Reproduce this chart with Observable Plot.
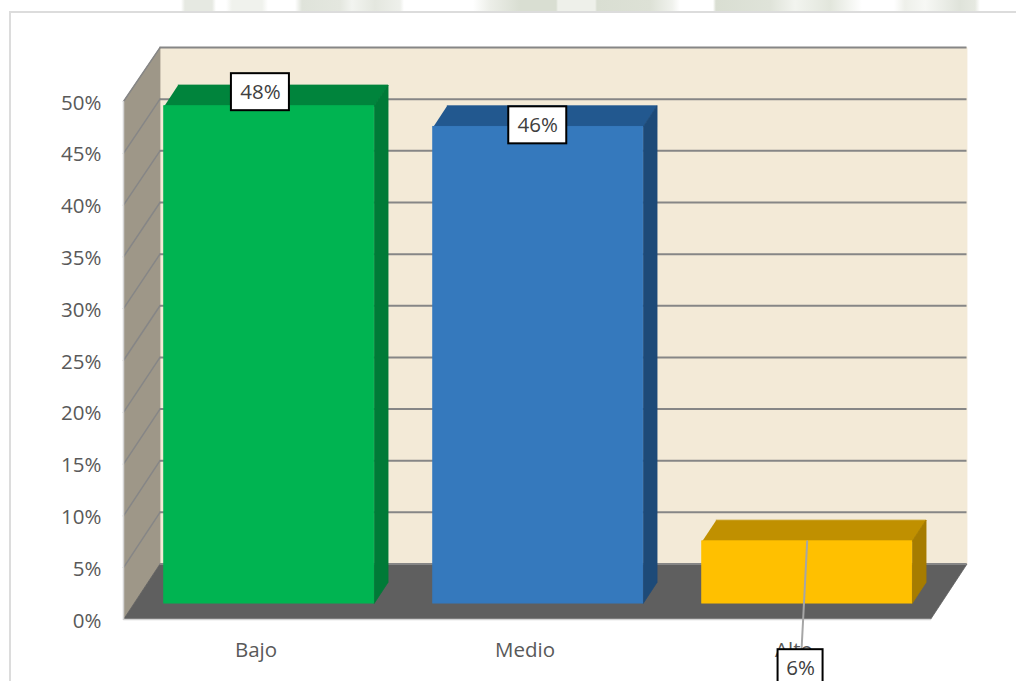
<!DOCTYPE html>
<html><head><meta charset="utf-8">
<script src="https://cdn.jsdelivr.net/npm/d3@7"></script>
<script src="https://cdn.jsdelivr.net/npm/@observablehq/plot@0.6"></script>
<style>
html,body{margin:0;padding:0;background:#fff;width:1016px;height:681px;overflow:hidden}
#frame{position:absolute;left:9px;top:11px;width:1007px;height:670px;border-left:2px solid #dcdcdc;border-top:2px solid #dcdcdc;box-sizing:border-box}
#mark{position:absolute;left:0;top:0;width:1016px;height:11px;background:linear-gradient(90deg,
  #fff 181px,#e6e9e2 185px,#e6e9e2 212px,#fff 216px,#fff 226px,#f0f2ed 232px,#f0f2ed 262px,#fff 268px,#fff 295px,
  #dfe3da 302px,#e4e7df 340px,#f2f4f0 352px,#e4e7df 375px,#eef0eb 400px,#fff 404px,#fff 473px,#eceee8 490px,#d9ded2 520px,#d9ded2 556px,
  #eef0ea 558px,#eef0ea 595px,#d9ded2 597px,#dde1d6 650px,#f0f2ed 672px,#fff 680px,#fff 713px,#d9ded2 716px,#dfe3d9 770px,#f2f4ef 795px,#e2e6dc 830px,#fff 862px,#fff 894px,
  #eef0ea 905px,#f7f8f5 925px,#dfe3da 960px,#e6e9e1 975px,#fff 980px)}
svg{position:absolute;left:0;top:0;display:block}
</style></head><body>
<div id="mark"></div>
<div id="frame"></div>
<script>
const categories = ["Bajo", "Medio", "Alto"];
const values = [48, 46, 6];
const labels = ["48%", "46%", "6%"];
const frontColors = ["#00b451", "#3579bd", "#ffc000"];
const topColors = ["#00843c", "#22588f", "#c09000"];
const sideColors = ["#007a37", "#1d4a78", "#a67c00"];
const yTicks = [0,5,10,15,20,25,30,35,40,45,50];
const labelY = [50.9, 47.7, -4.7];
const labelX = [0.509, 1.54, 2.517];

const W = 1016, H = 681;
const left = 123, right = 930, top_ = 101, bottom = 619;
const px = 3 / (right - left), py = 50 / (bottom - top_);
const depthX = 36.5 * px, depthY = 55.5 * py, backScale = 0.997;
const barNear = 0.288, barFar = 0.67, barStart = 0.1125, barWidth = 0.78;
const P = (u, v, d = 0) => ({x: u + d * depthX, y: v + d * depthY});
const B = (u, v) => ({x: u + depthX, y: v * backScale + depthY});
const poly = (pts, fill, extra = {}) => Plot.line(pts, {x: "x", y: "y", fill, stroke: fill, strokeWidth: 0.8, ...extra});
const bars = categories.map((c, i) => ({c, i, v: values[i], l: labels[i],
  x0: i + barStart, x1: i + barStart + barWidth}));

const marks = [
  // back wall, left wall, floor
  poly([B(0,0),B(3,0),B(3,50),B(0,50)], "#f3ead7"),
  poly([P(0,0,0),B(0,0),B(0,50),P(0,50,0)], "#9e9788"),
  poly([P(0,0,0),B(0,0),B(3,0),P(3,0,0)], "#5f5f5f"),
  // grid
  Plot.ruleY(yTicks, {x1: B(0,0).x, x2: B(3,0).x, y: d => B(0,d).y, stroke: "#868686", strokeWidth: 2}),
  ...yTicks.filter(t => t > 0).map(t => Plot.line([P(0,t,0),B(0,t)], {x: "x", y: "y", stroke: "#868686", strokeWidth: 1.5})),
  // front edges
  Plot.line([P(3,0,0),P(0,0,0),P(0,50,0)], {x:"x", y:"y", stroke:"#d4d4d4", strokeWidth:1.5}),
  Plot.axisY({ticks: yTicks, tickFormat: d => d + "%", tickSize: 0, tickPadding: 22, fontSize: 20.5, color: "#595959", label: null, anchor: "left", dy: 1.5}),
  Plot.axisX({ticks: [0.5,1.5,2.5], tickFormat: d => categories[Math.floor(d)], tickSize: 0, tickPadding: 23, fontSize: 20.5, color: "#595959", label: null, anchor: "bottom", dx: -2}),
  // bars
  ...bars.flatMap(b => [
    poly([P(b.x0,b.v,barNear),P(b.x1,b.v,barNear),P(b.x1,b.v,barFar),P(b.x0,b.v,barFar)], topColors[b.i]),
    poly([P(b.x1,0,barNear),P(b.x1,0,barFar),P(b.x1,b.v,barFar),P(b.x1,b.v,barNear)], sideColors[b.i])
  ]),
  Plot.rect(bars, {
    x1: b => P(b.x0,0,barNear).x, x2: b => P(b.x1,0,barNear).x,
    y1: b => P(0,0,barNear).y, y2: b => P(0,b.v,barNear).y,
    fill: b => frontColors[b.i], stroke: b => frontColors[b.i], strokeWidth: 1, inset: 0
  }),
  // leader line for the small bar
  Plot.line([P(bars[2].x0 + barWidth/2, bars[2].v, barNear), {x: labelX[2], y: labelY[2]}], {x:"x", y:"y", stroke:"#a6a6a6", strokeWidth:2}),
  // value labels
  Plot.rect(bars, {
    x1: b => labelX[b.i] - (b.i === 2 ? 22.5 : 29) * px,
    x2: b => labelX[b.i] + (b.i === 2 ? 22.5 : 29) * px,
    y1: b => labelY[b.i] - 18.5 * py,
    y2: b => labelY[b.i] + 18.5 * py,
    fill: "#fff", stroke: "#000", strokeWidth: 2
  }),
  Plot.text(bars, {x: b => labelX[b.i], y: b => labelY[b.i], dy: 0.5, text: "l", fontSize: 20.5, fill: "#404040"})
];

const chart = Plot.plot({
  width: W, height: H,
  marginLeft: left, marginRight: W - right, marginTop: top_, marginBottom: H - bottom,
  x: {domain: [0, 3], axis: null},
  y: {domain: [0, 50], axis: null},
  style: {fontFamily: "'Open Sans', sans-serif", background: "transparent", overflow: "hidden"},
  marks
});
document.body.appendChild(chart);
</script>
</body></html>
